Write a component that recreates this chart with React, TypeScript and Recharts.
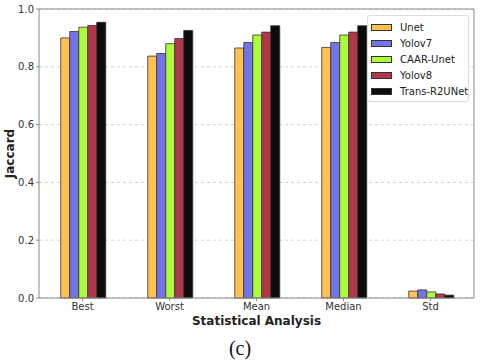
import { BarChart, Bar, XAxis, YAxis, CartesianGrid, ReferenceLine } from "recharts"

const categories = ["Best", "Worst", "Mean", "Median", "Std"]
const unet = [0.9, 0.837, 0.865, 0.867, 0.024]
const yolov7 = [0.922, 0.846, 0.884, 0.884, 0.028]
const caarUnet = [0.937, 0.88, 0.91, 0.91, 0.021]
const yolov8 = [0.943, 0.898, 0.92, 0.92, 0.014]
const transR2UNet = [0.954, 0.926, 0.942, 0.942, 0.01]
const yTicks = [0, 0.2, 0.4, 0.6, 0.8, 1.0]

const series = [
  { key: "Unet", values: unet, color: "#ffc14f" },
  { key: "Yolov7", values: yolov7, color: "#7373ec" },
  { key: "CAAR-Unet", values: caarUnet, color: "#adfc3a" },
  { key: "Yolov8", values: yolov8, color: "#b3364a" },
  { key: "Trans-R2UNet", values: transR2UNet, color: "#0b0d0a" },
]

const data = categories.map((name, i) => {
  const row: Record<string, string | number> = { name }
  series.forEach((s) => (row[s.key] = s.values[i]))
  return row
})

const font = "'DejaVu Sans', sans-serif"
const axisGray = "#8a8a8a"

function LegendBox() {
  return (
    <div
      style={{
        position: "absolute",
        left: 367,
        top: 15,
        width: 102,
        border: "1px solid #dcdcdc",
        borderRadius: 3,
        background: "#fff",
        padding: "3px 0 2px 3px",
        fontFamily: font,
        fontSize: 10,
        color: "#222",
        boxSizing: "border-box",
        whiteSpace: "nowrap",
      }}
    >
      {series.map((s) => (
        <div key={s.key} style={{ display: "flex", alignItems: "center", height: 16 }}>
          <span
            style={{
              width: 19,
              height: 5,
              background: s.color,
              border: "1px solid #333",
              marginRight: 8,
              flex: "none",
            }}
          />
          {s.key}
        </div>
      ))}
    </div>
  )
}

export default function App() {
  return (
    <div style={{ position: "absolute", left: 0, top: 0, width: 480, height: 361, background: "#fff" }}>
      <BarChart
        width={480}
        height={361}
        data={data}
        margin={{ top: 9, right: 5, left: 0, bottom: 0 }}
        barCategoryGap="25%"
        barGap={0}
      >
        <CartesianGrid vertical={false} stroke="#d4d4d4" strokeDasharray="3 3" />
        <XAxis
          dataKey="name"
          height={63}
          tick={{ fontSize: 10, fill: "#333", fontFamily: font }}
          tickLine={{ stroke: axisGray }}
          tickSize={3}
          axisLine={{ stroke: axisGray }}
          label={{
            value: "Statistical Analysis",
            position: "insideBottom",
            offset: 36,
            style: { fontSize: 12, fontWeight: "bold", fill: "#222", fontFamily: font },
          }}
        />
        <YAxis
          width={39}
          domain={[0, 1]}
          ticks={yTicks}
          tickFormatter={(v: number) => v.toFixed(1)}
          tick={{ fontSize: 10, fill: "#333", fontFamily: font }}
          tickLine={{ stroke: axisGray }}
          tickSize={3}
          axisLine={{ stroke: axisGray }}
          label={{
            value: "Jaccard",
            angle: -90,
            position: "insideLeft",
            offset: 10,
            style: { fontSize: 12, fontWeight: "bold", fill: "#222", fontFamily: font, textAnchor: "middle" },
          }}
        />
        <YAxis
          yAxisId="right"
          orientation="right"
          width={1}
          domain={[0, 1]}
          tick={false}
          tickLine={false}
          axisLine={{ stroke: axisGray }}
        />
        <ReferenceLine y={1} stroke={axisGray} strokeWidth={1} />
        {series.map((s) => (
          <Bar
            key={s.key}
            dataKey={s.key}
            fill={s.color}
            stroke="#333"
            strokeWidth={0.8}
            isAnimationActive={false}
          />
        ))}
      </BarChart>
      <LegendBox />
      <div
        style={{
          position: "absolute",
          top: 336,
          left: 0,
          width: 480,
          textAlign: "center",
          fontFamily: "'Liberation Serif', serif",
          fontSize: 20,
          lineHeight: "24px",
          color: "#111",
        }}
      >
        (c)
      </div>
    </div>
  )
}
